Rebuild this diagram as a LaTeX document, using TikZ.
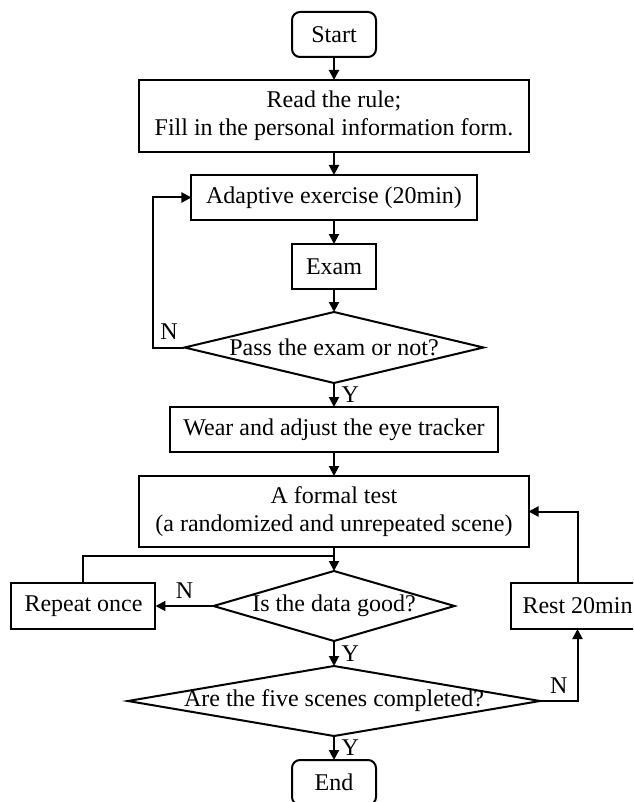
\documentclass[tikz,border=0pt]{standalone}
\usepackage{fontspec}
\setmainfont{Liberation Serif}
\usetikzlibrary{arrows.meta, positioning, shapes.geometric}

\begin{document}
\begin{tikzpicture}[
  font=\fontsize{12}{14}\selectfont,
  decision/.style={
    diamond, draw, inner sep=0pt, outer sep=0pt, line width=1pt
  },
  block/.style={
    rectangle, draw, align=center,
    inner sep=0pt, outer sep=0pt, minimum height=22.5pt, line width=1pt
  },
  term/.style={
    rectangle, draw, rounded corners=4pt, outer sep=0pt,
    minimum width=42pt, minimum height=22.5pt, line width=1pt
  },
  line/.style={draw, -{Triangle[length=5pt, width=5pt]}, line width=1pt}
]
  \useasboundingbox (-167pt,17.25pt) rectangle (149.5pt,-383.75pt);
  \clip (-167pt,17.25pt) rectangle (149.5pt,-383.75pt);

  \node [term] (start) {Start};
  \node [block, minimum width=194.5pt, minimum height=36pt, below=11.5pt of start] (read) {Read the rule;\\ Fill in the personal information form.};
  \node [block, minimum width=142.5pt, below=11.5pt of read] (adapt) {Adaptive exercise (20min)};
  \node [block, minimum width=42pt, below=12pt of adapt] (exam) {Exam};
  \node [decision, minimum width=149.5pt, minimum height=35.5pt, below=11.5pt of exam] (pass) {\makebox[0pt]{Pass the exam or not?}};
  \node [block, minimum width=163.5pt, below=12pt of pass] (wear) {Wear and adjust the eye tracker};
  \node [block, minimum width=194.5pt, minimum height=35.5pt, below=12pt of wear] (formal) {A formal test\\ (a randomized and unrepeated scene)};
  \node [decision, minimum width=120.5pt, minimum height=35pt, below=12pt of formal] (data) {\makebox[0pt]{Is the data good?}};
  \node [block, minimum width=72pt, minimum height=23pt, left=29pt of data] (repeat) {Repeat once};
  \node [block, minimum width=67pt, minimum height=23pt, right=28pt of data] (rest) {Rest 20min};
  \node [decision, minimum width=206pt, minimum height=35pt, below=12.5pt of data] (five) {\makebox[0pt]{Are the five scenes completed?}};
  \node [term, below=12pt of five] (end) {End};
  \coordinate [below=4.5pt of formal] (join);

  \path [line] (start) -- (read);
  \path [line] (read) -- (adapt);
  \path [line] (adapt) -- (exam);
  \path [line] (exam) -- (pass);
  \path [line] (pass.west) -- node[above]{N} ++(-15.5pt,0) |- (adapt.west);
  \path [line] (pass) -- node[right]{Y} (wear);
  \path [line] (wear) -- (formal);
  \path [line] (formal) -- (data);
  \draw [line width=1pt] (repeat.north) |- (join);
  \path [line] (data.west) -- node[above]{N} (repeat.east);
  \path [line] (data) -- node[right]{Y} (five);
  \path [line] (five.east) -| node[above, pos=0.25]{N} (rest.south);
  \path [line] (rest.north) |- (formal.east);
  \path [line] (five) -- node[right]{Y} (end);

\end{tikzpicture}
\end{document}
